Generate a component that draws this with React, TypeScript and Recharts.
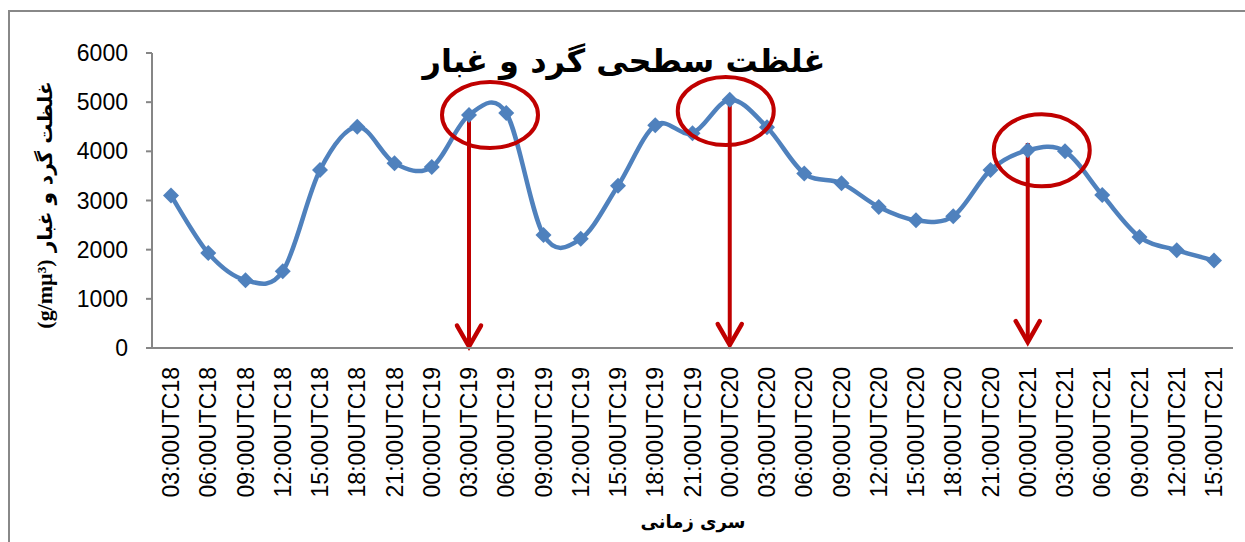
import React from "react";
import { LineChart, Line, XAxis, YAxis, ReferenceLine, ReferenceDot } from "recharts";

const times = [
  "03:00UTC18", "06:00UTC18", "09:00UTC18", "12:00UTC18", "15:00UTC18", "18:00UTC18", "21:00UTC18",
  "00:00UTC19", "03:00UTC19", "06:00UTC19", "09:00UTC19", "12:00UTC19", "15:00UTC19", "18:00UTC19", "21:00UTC19",
  "00:00UTC20", "03:00UTC20", "06:00UTC20", "09:00UTC20", "12:00UTC20", "15:00UTC20", "18:00UTC20", "21:00UTC20",
  "00:00UTC21", "03:00UTC21", "06:00UTC21", "09:00UTC21", "12:00UTC21", "15:00UTC21",
];
const dust = [
  3100, 1930, 1380, 1560, 3620, 4500, 3760,
  3680, 4740, 4780, 2300, 2220, 3300, 4530, 4370,
  5050, 4490, 3550, 3350, 2870, 2600, 2680, 3620,
  4020, 4000, 3110, 2260, 1990, 1780,
];
const yTicks = [0, 1000, 2000, 3000, 4000, 5000, 6000];

// annotated peaks: arrow drops from the peak to the axis, ellipse circles the peak
const peakTimes = ["03:00UTC19", "00:00UTC20", "00:00UTC21"];
const arrowTops = [4740, 5040, 4170];
const arrowBottoms = [30, 60, 120];
const ellipseValues = [4740, 4820, 4020];

const data = times.map((time, i) => ({ time, dust: dust[i] }));

const BLUE = "#4F81BD";
const RED = "#C00000";
const AXIS = "#868686";
const FONT = "'Liberation Sans', Arial, sans-serif";
const FARSI = "'DejaVu Sans', sans-serif";

const ellipseShift = [21, -4, 14];
const ellipseRy = [33, 34, 36];

// Excel-style smoothed line (Catmull-Rom through every point)
function excelSmooth(context: any) {
  let pts: number[][] = [];
  return {
    areaStart() {},
    areaEnd() {},
    lineStart() {
      pts = [];
    },
    point(x: number, y: number) {
      pts.push([+x, +y]);
    },
    lineEnd() {
      if (!pts.length) return;
      context.moveTo(pts[0][0], pts[0][1]);
      for (let i = 0; i < pts.length - 1; i++) {
        const p0 = pts[i - 1] || pts[i];
        const p1 = pts[i];
        const p2 = pts[i + 1];
        const p3 = pts[i + 2] || p2;
        context.bezierCurveTo(
          p1[0] + (p2[0] - p0[0]) / 6,
          p1[1] + (p2[1] - p0[1]) / 6,
          p2[0] - (p3[0] - p1[0]) / 6,
          p2[1] - (p3[1] - p1[1]) / 6,
          p2[0],
          p2[1]
        );
      }
    },
  };
}

const Diamond = (props: any) => {
  const { cx, cy } = props;
  if (cx == null || cy == null) return null;
  const s = 8;
  return <path d={`M${cx},${cy - s}L${cx + s},${cy}L${cx},${cy + s}L${cx - s},${cy}Z`} fill={BLUE} />;
};

const XTick = (props: any) => {
  const { x, y, payload } = props;
  const ty = y + 19;
  return (
    <text
      x={x}
      y={ty}
      transform={`rotate(-90 ${x} ${ty})`}
      textAnchor="end"
      dominantBaseline="central"
      fontFamily={FONT}
      fontSize={23}
      fill="#000"
    >
      {payload.value}
    </text>
  );
};

const Arrow = (props: any) => {
  const { x1, y1, x2, y2 } = props;
  return (
    <g>
      <line x1={x1} y1={y1} x2={x2} y2={y2 - 2} stroke={RED} strokeWidth={4} />
      <path
        d={`M${x2 - 12},${y2 - 21}L${x2},${y2}L${x2 + 12},${y2 - 21}`}
        fill="none"
        stroke={RED}
        strokeWidth={4.5}
        strokeLinecap="round"
        strokeLinejoin="miter"
      />
    </g>
  );
};

const makeEllipse = (i: number) => (props: any) => {
  const { cx, cy } = props;
  return <ellipse cx={cx + ellipseShift[i]} cy={cy} rx={48} ry={ellipseRy[i]} fill="none" stroke={RED} strokeWidth={4} />;
};

export default function App() {
  return (
    <div style={{ position: "absolute", left: 0, top: 0, width: 1245, height: 542, overflow: "hidden", background: "#fff" }}>
      <div
        style={{
          position: "absolute",
          left: 8,
          top: 10,
          width: 1260,
          height: 560,
          border: "2px solid #888",
          boxSizing: "border-box",
        }}
      />
      <LineChart width={1245} height={542} data={data} margin={{ top: 53, right: 12, bottom: 0, left: 0 }}>
        <XAxis
          dataKey="time"
          interval={0}
          padding={{ left: 19, right: 19 }}
          tickLine={false}
          tickSize={0}
          tickMargin={0}
          height={194}
          axisLine={{ stroke: AXIS, strokeWidth: 2 }}
          tick={<XTick />}
        />
        <YAxis
          width={152}
          domain={[0, 6000]}
          ticks={yTicks}
          interval={0}
          tickSize={6}
          tickMargin={18}
          axisLine={{ stroke: AXIS, strokeWidth: 2 }}
          tickLine={{ stroke: AXIS, strokeWidth: 2 }}
          tick={{ fontFamily: FONT, fontSize: 23, fill: "#000" }}
        />
        <Line
          dataKey="dust"
          type={excelSmooth as any}
          stroke={BLUE}
          strokeWidth={4.5}
          dot={<Diamond />}
          activeDot={false}
          isAnimationActive={false}
        />
        {peakTimes.map((t, i) => (
          <ReferenceLine
            key={"a" + t}
            segment={[
              { x: t, y: arrowTops[i] },
              { x: t, y: arrowBottoms[i] },
            ]}
            shape={Arrow}
          />
        ))}
        {peakTimes.map((t, i) => (
          <ReferenceDot key={"e" + t} x={t} y={ellipseValues[i]} shape={makeEllipse(i)} />
        ))}
      </LineChart>
      <div
        style={{
          position: "absolute",
          left: 324,
          top: 31,
          width: 600,
          textAlign: "center",
          direction: "rtl",
          whiteSpace: "nowrap",
          fontFamily: FARSI,
          fontWeight: "bold",
          fontSize: 32,
          color: "#000",
          lineHeight: "60px",
        }}
      >
        غلظت سطحی گرد و غبار
      </div>
      <div
        style={{
          position: "absolute",
          left: 45 - 150,
          top: 205 - 15,
          width: 300,
          height: 30,
          lineHeight: "30px",
          textAlign: "center",
          direction: "rtl",
          transform: "rotate(-90deg)",
          fontFamily: FARSI,
          fontWeight: "bold",
          fontSize: 20,
          color: "#000",
          whiteSpace: "nowrap",
        }}
      >
        غلظت گرد و غبار <span style={{ fontFamily: "'Liberation Serif', serif", fontSize: 22 }}>(g/mµ³)</span>
      </div>
      <div
        style={{
          position: "absolute",
          left: 593,
          top: 507,
          width: 200,
          textAlign: "center",
          direction: "rtl",
          fontFamily: FARSI,
          fontWeight: "bold",
          fontSize: 18,
          color: "#000",
          lineHeight: "30px",
        }}
      >
        سری زمانی
      </div>
    </div>
  );
}
